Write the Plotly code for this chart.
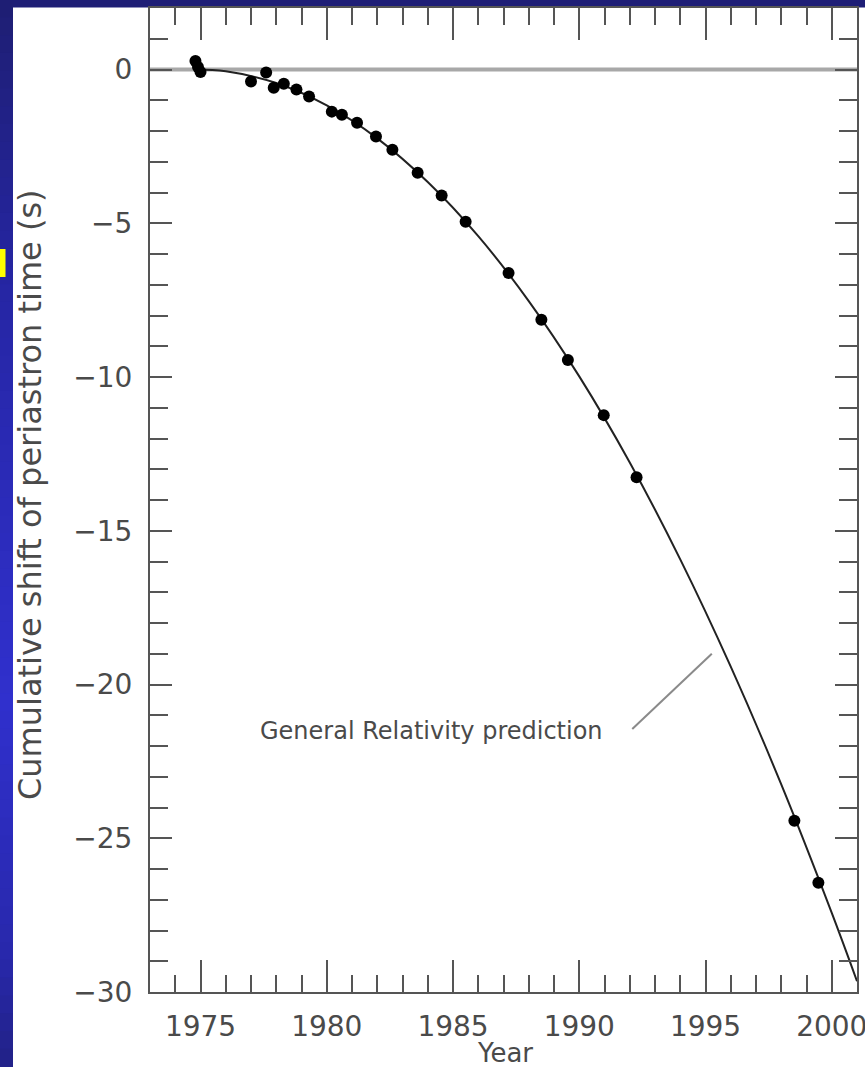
import plotly.graph_objects as go

# Observed data points (year, cumulative shift of periastron time in s)
obs_year = [1974.8, 1974.9, 1975.0, 1977.0, 1977.6, 1977.9, 1978.3, 1978.8, 1979.3,
            1980.2, 1980.6, 1981.2, 1981.95, 1982.6, 1983.6, 1984.55, 1985.5, 1987.2,
            1988.5, 1989.55, 1990.97, 1992.27, 1998.52, 1999.47]
obs_shift = [0.28, 0.08, -0.08, -0.39, -0.1, -0.59, -0.46, -0.65, -0.88,
             -1.37, -1.47, -1.73, -2.18, -2.61, -3.36, -4.1, -4.95, -6.62,
             -8.14, -9.45, -11.24, -13.26, -24.43, -26.45]

# General Relativity prediction curve
gr_year = [1974.8, 1976, 1978, 1980, 1982, 1984, 1986, 1988, 1990, 1992,
           1994, 1996, 1998, 2000, 2001]
gr_shift = [0.0, -0.06, -0.44, -1.17, -2.24, -3.66, -5.42, -7.53, -9.98, -12.78,
            -15.93, -19.42, -23.25, -27.43, -29.65]

x_ticks = [1975, 1980, 1985, 1990, 1995, 2000]
y_ticks = [0, -5, -10, -15, -20, -25, -30]

W, H = 865, 1067
ML, MR, MT, MB = 150, 8, 8, 75
PW, PH = W - ML - MR, H - MT - MB

def px_x(px):
    return (px - ML) / PW

def px_y(py):
    return 1 - (py - MT) / PH

AX = "#555555"
TXT = "#4a4a4a"
FONT = "DejaVu Sans"

fig = go.Figure()
fig.add_trace(go.Scatter(x=gr_year, y=gr_shift, mode="lines",
                         line=dict(color="#222222", width=2, shape="spline"),
                         hoverinfo="skip", showlegend=False))
fig.add_trace(go.Scatter(x=obs_year, y=obs_shift, mode="markers",
                         marker=dict(color="black", size=12, symbol="circle"),
                         showlegend=False))

shapes = []
# Blue gradient on the left strip
stops = [(0, (30, 30, 115)), (300, (38, 38, 165)), (700, (48, 48, 205)),
         (950, (40, 40, 172)), (1067, (34, 34, 135))]
nb = 60
for i in range(nb):
    y0 = H * i / nb
    y1 = H * (i + 1) / nb
    ym = (y0 + y1) / 2
    for (a, ca), (b, cb) in zip(stops[:-1], stops[1:]):
        if a <= ym <= b:
            t = (ym - a) / (b - a)
            c = tuple(int(round(ca[k] + (cb[k] - ca[k]) * t)) for k in range(3))
            break
    shapes.append(dict(type="rect", xref="paper", yref="paper",
                       x0=px_x(0), x1=px_x(13.5), y0=px_y(y1 + 0.5), y1=px_y(y0 - 0.5),
                       fillcolor="rgb(%d,%d,%d)" % c, line=dict(width=0), layer="below"))
# Yellow marker on the left edge
shapes.append(dict(type="rect", xref="paper", yref="paper",
                   x0=px_x(0), x1=px_x(5.5), y0=px_y(277), y1=px_y(249),
                   fillcolor="#ffff00", line=dict(width=0), layer="below"))
# White page
shapes.append(dict(type="rect", xref="paper", yref="paper",
                   x0=px_x(13), x1=px_x(W + 5), y0=px_y(H + 5), y1=px_y(7.5),
                   fillcolor="white", line=dict(width=0), layer="below"))
# Zero line
shapes.append(dict(type="line", xref="paper", yref="y", x0=0, x1=1, y0=0, y1=0,
                   line=dict(color="#a8a8a8", width=4), layer="below"))
# Annotation pointer
shapes.append(dict(type="line", xref="x", yref="y", x0=1992.1, y0=-21.45, x1=1995.25, y1=-19.0,
                   line=dict(color="#8a8a8a", width=2)))

annotations = [
    dict(text="General Relativity prediction", x=1991.0, y=-21.5, xref="x", yref="y",
         xanchor="right", yanchor="middle", showarrow=False,
         font=dict(family=FONT, size=24, color=TXT)),
    dict(text="Cumulative shift of periastron time (s)", x=px_x(30), y=px_y(495),
         xref="paper", yref="paper", xanchor="center", yanchor="middle",
         textangle=-90, showarrow=False, font=dict(family=FONT, size=32, color=TXT)),
    dict(text="Year", x=px_x(505), y=px_y(1053), xref="paper", yref="paper",
         xanchor="center", yanchor="middle", showarrow=False,
         font=dict(family=FONT, size=26, color=TXT)),
]

fig.update_layout(
    width=W, height=H,
    margin=dict(l=ML, r=MR, t=MT, b=MB, autoexpand=False),
    paper_bgcolor="rgb(30,30,118)",
    plot_bgcolor="white",
    shapes=shapes,
    annotations=annotations,
    showlegend=False,
)
fig.update_xaxes(range=[1973, 2001], tickvals=x_ticks, ticktext=[str(v) for v in x_ticks],
                 showgrid=False, zeroline=False, showline=True, linecolor=AX, linewidth=2,
                 mirror="ticks", ticks="inside", ticklen=32, tickwidth=2, tickcolor=AX,
                 minor=dict(dtick=1, ticks="inside", ticklen=17, tickwidth=2, tickcolor=AX),
                 tickfont=dict(family=FONT, size=28, color=TXT), ticklabelstandoff=8,
                 ticklabeloverflow="allow", automargin=False)
fig.update_yaxes(range=[-30, 2], tickvals=y_ticks, showgrid=False, zeroline=False,
                 showline=True, linecolor=AX, linewidth=2, mirror="ticks",
                 ticks="inside", ticklen=22, tickwidth=2, tickcolor=AX,
                 minor=dict(dtick=1, ticks="inside", ticklen=18, tickwidth=2, tickcolor=AX),
                 tickfont=dict(family=FONT, size=28, color=TXT), ticklabelstandoff=10,
                 automargin=False)

fig.write_html("out.html")
